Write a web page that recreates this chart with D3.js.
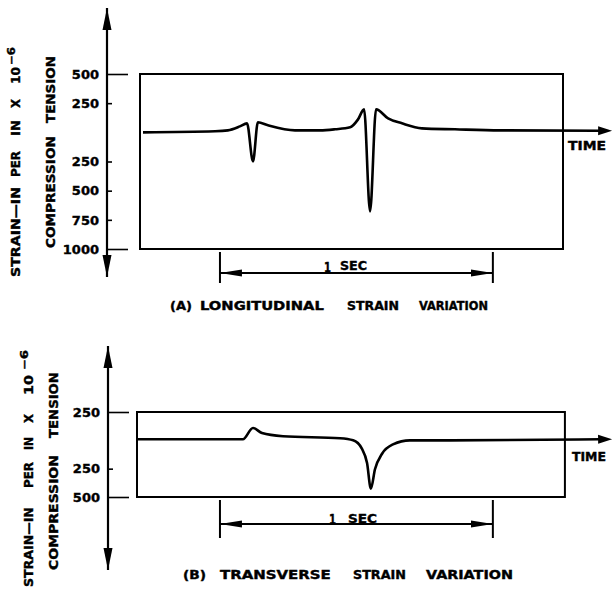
<!DOCTYPE html>
<html lang="en">
<head>
  <meta charset="utf-8">
  <title>Strain Variation</title>
  <script src="https://d3js.org/d3.v7.js"></script>
  <style>
    body { margin: 0; background: #fff; }
    text { font-family: "DejaVu Sans", sans-serif; font-weight: bold; fill: #000; stroke: #000; stroke-width: 0.4px; }
  </style>
</head>
<body>
<script>

  var w = 616;
  var h = 590;

  // time in ms, strain in 10^-6 in/in (tension positive)
  var timeA   = [11, 275, 322, 366, 392, 414, 432, 469, 568, 660, 715, 770, 799, 821, 843, 865, 909, 960, 1033, 1154, 1319, 1686];
  var strainA = [0, 9, 17, 51, 77, -249, 86, 60, 17, 17, 26, 43, 111, 197, -677, 197, 120, 77, 34, 26, 17, 13];

  var timeB   = [-11, 311, 377, 414, 447, 524, 733, 781, 813, 832, 846, 861, 887, 927, 989, 1136, 1686];
  var strainB = [9, 9, 9, 109, 64, 36, 18, 0, -73, -200, -427, -255, -118, -36, 0, 0, 9];

  var ticksA = [500, 250, -250, -500, -750, -1000];
  var ticksB = [250, -250, -500];

  var boxA = [0, 1550];
  var boxB = [-11, 1557];
  var secMarks = [293, 1293];

  var svg = d3.select("body")
    .append("svg")
    .attr("width", w)
    .attr("height", h);

  var defs = svg.append("defs");
  function marker(id, len, half, refX) {
    defs.append("marker")
      .attr("id", id)
      .attr("markerUnits", "userSpaceOnUse")
      .attr("markerWidth", len + 2)
      .attr("markerHeight", half * 2 + 2)
      .attr("viewBox", `0 ${-half - 1} ${len + 2} ${half * 2 + 2}`)
      .attr("refX", refX)
      .attr("refY", 0)
      .attr("orient", "auto-start-reverse")
      .append("path")
      .attr("d", `M0,${-half} L${len},0 L0,${half} Z`)
      .attr("fill", "#000");
  }
  marker("bigArrow", 22, 4.5, 22);
  marker("dimArrow", 22, 3.5, 22);
  marker("endArrow", 14, 4.5, 2);

  // text stretched/squeezed horizontally to fill a span
  function fitText(g, str, size, len, place) {
    var t = g.append("text").attr("font-size", size).text(str);
    var natural = t.node().getComputedTextLength();
    t.attr("transform", `${place} scale(${len / natural},1)`);
    return t;
  }
  function htext(g, x0, x1, yb, str, size) {
    fitText(g, str, size, x1 - x0, `translate(${x0},${yb})`);
  }
  // vertical, reading upward from y0 (bottom) to y1 (top)
  function vtext(g, xb, y0, y1, str, size) {
    fitText(g, str, size, y0 - y1, `translate(${xb},${y0}) rotate(-90)`);
  }

  var x = d3.scaleLinear().domain([0, 1550]).range([140, 563]);

  function panel(p) {
    var y = d3.scaleLinear().domain(p.yDomain).range(p.yRange);
    var g = svg.append("g");

    // strain axis with arrows both ends
    g.append("line")
      .attr("x1", p.axisX).attr("x2", p.axisX)
      .attr("y1", p.axisEnds[0]).attr("y2", p.axisEnds[1])
      .attr("stroke", "#000")
      .attr("stroke-width", 2.2)
      .attr("marker-start", "url(#bigArrow)")
      .attr("marker-end", "url(#bigArrow)");

    var yAxis = d3.axisLeft(y)
      .tickValues(p.ticks)
      .tickFormat(d => Math.abs(d))
      .tickSizeInner(-5)
      .tickSizeOuter(0)
      .tickPadding(8);

    var ag = g.append("g")
      .attr("transform", `translate(${p.axisX},0)`)
      .call(yAxis)
      .attr("font-size", 13)
      .attr("font-family", null);
    ag.select(".domain").remove();
    ag.selectAll(".tick line")
      .attr("stroke-width", 1.6)
      .attr("x2", d => (d === p.yDomain[0] || d === p.yDomain[1]) ? 21 : 5);

    // frame
    g.append("rect")
      .attr("x", x(p.box[0]))
      .attr("y", y(p.yDomain[0]))
      .attr("width", x(p.box[1]) - x(p.box[0]))
      .attr("height", y(p.yDomain[1]) - y(p.yDomain[0]))
      .attr("fill", "none")
      .attr("stroke", "#000")
      .attr("stroke-width", 2);

    // strain trace
    var line = d3.line()
      .x(d => x(d[0]))
      .y(d => y(d[1]))
      .curve(d3.curveMonotoneX);
    g.append("path")
      .datum(d3.zip(p.time, p.strain))
      .attr("d", line)
      .attr("fill", "none")
      .attr("stroke", "#000")
      .attr("stroke-width", 2.6)
      .attr("stroke-linejoin", "miter")
      .attr("marker-end", "url(#endArrow)");

    htext(g, p.timeLabel[0], p.timeLabel[1], p.timeLabel[2], "TIME", 12);

    // 1 sec dimension
    secMarks.forEach(function (t) {
      g.append("line")
        .attr("x1", x(t)).attr("x2", x(t))
        .attr("y1", p.dim[0]).attr("y2", p.dim[1])
        .attr("stroke", "#000").attr("stroke-width", 2);
    });
    g.append("line")
      .attr("x1", x(secMarks[0])).attr("x2", x(secMarks[1]))
      .attr("y1", p.dim[2]).attr("y2", p.dim[2])
      .attr("stroke", "#000").attr("stroke-width", 2)
      .attr("marker-start", "url(#dimArrow)")
      .attr("marker-end", "url(#dimArrow)");
    p.secText.forEach(s => htext(g, s[0], s[1], s[2], s[3], s[4]));

    p.caption.forEach(s => htext(g, s[0], s[1], s[2], s[3], 12));
    p.yLabel.forEach(s => vtext(g, s[0], s[1], s[2], s[3], s[4]));
  }

  panel({
    time: timeA, strain: strainA, ticks: ticksA, box: boxA,
    yDomain: [500, -1000], yRange: [74, 249],
    axisX: 107, axisEnds: [8, 277],
    timeLabel: [568, 606, 150],
    dim: [252, 283, 273],
    secText: [[324, 331, 272, "1", 14], [340, 367, 270, "SEC", 12]],
    caption: [[170, 192, 310, "(A)"], [200, 324, 310, "LONGITUDINAL"], [347, 399, 310, "STRAIN"], [419, 488, 310, "VARIATION"]],
    yLabel: [
      [20, 277, 187, "STRAIN—IN", 13], [20, 177, 151, "PER", 13], [20, 136, 120, "IN", 13],
      [20, 108, 99, "X", 13], [20, 84, 67, "10", 13], [15, 65, 47, "−6", 10],
      [55, 248, 136, "COMPRESSION", 13], [55, 123, 56, "TENSION", 13]
    ]
  });

  panel({
    time: timeB, strain: strainB, ticks: ticksB, box: boxB,
    yDomain: [250, -500], yRange: [412, 497],
    axisX: 108, axisEnds: [346, 570],
    timeLabel: [572, 606, 461],
    dim: [500, 538, 524],
    secText: [[329, 336, 524, "1", 14], [348, 377, 523, "SEC", 12]],
    caption: [[183, 206, 579, "(B)"], [220, 331, 579, "TRANSVERSE"], [353, 406, 579, "STRAIN"], [426, 513, 579, "VARIATION"]],
    yLabel: [
      [33, 587, 507, "STRAIN—IN", 13], [33, 488, 462, "PER", 13], [33, 450, 437, "IN", 13],
      [33, 423, 414, "X", 13], [33, 395, 375, "10", 13], [28, 370, 350, "−6", 10],
      [58, 570, 455, "COMPRESSION", 13], [58, 438, 372, "TENSION", 13]
    ]
  });

</script>
</body>
</html>
